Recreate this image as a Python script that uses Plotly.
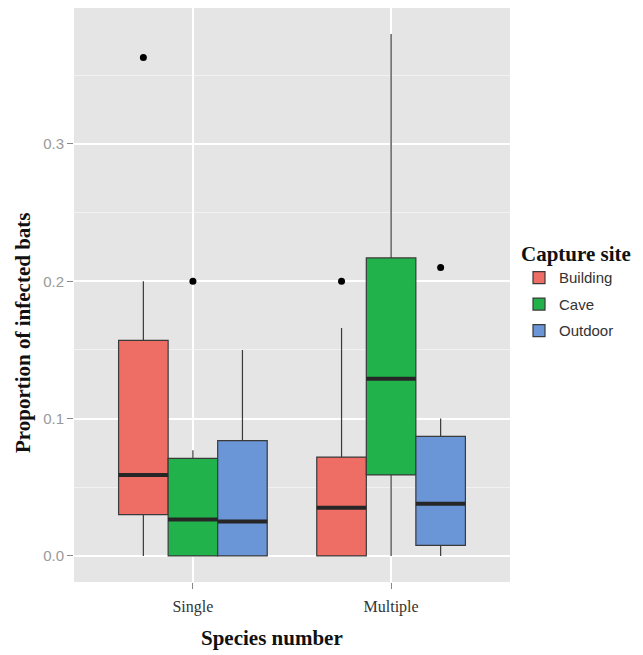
import plotly.graph_objects as go

# ---- data ----
species = ["Single", "Multiple"]
sites = ["Building", "Cave", "Outdoor"]
site_colors = ["#EE6E66", "#22B24C", "#6A95D6"]

# per site: values for [Single, Multiple]
q1 = {"Building": [0.030, 0.0], "Cave": [0.0, 0.059], "Outdoor": [0.0, 0.0076]}
median = {"Building": [0.059, 0.035], "Cave": [0.0265, 0.129], "Outdoor": [0.025, 0.038]}
q3 = {"Building": [0.157, 0.072], "Cave": [0.071, 0.217], "Outdoor": [0.084, 0.087]}
lower = {"Building": [0.0, 0.0], "Cave": [0.0, 0.0], "Outdoor": [0.0, 0.0]}
upper = {"Building": [0.200, 0.166], "Cave": [0.077, 0.380], "Outdoor": [0.150, 0.100]}

outlier_species = ["Single", "Single", "Multiple", "Multiple"]
outlier_site = ["Building", "Cave", "Building", "Outdoor"]
outlier_value = [0.363, 0.200, 0.200, 0.210]

y_ticks = [0.0, 0.1, 0.2, 0.3]
y_tick_labels = ["0.0", "0.1", "0.2", "0.3"]

# ---- layout helpers ----
dodge_total = 0.75
box_w = dodge_total / len(sites)


def xpos(sp, site):
    i = species.index(sp) + 1
    j = sites.index(site)
    return i - dodge_total / 2 + box_w * (j + 0.5)


fig = go.Figure()

for site, col in zip(sites, site_colors):
    xs = [xpos(sp, site) for sp in species]
    fig.add_trace(go.Box(
        x=xs, q1=q1[site], median=median[site], q3=q3[site],
        lowerfence=lower[site], upperfence=upper[site],
        width=box_w, name=site, fillcolor=col,
        line=dict(color="#3a3a3a", width=1.2), whiskerwidth=0,
        boxpoints=False, legendgroup=site, showlegend=True,
    ))

# thick median lines (ggplot fatten)
mx, my = [], []
for site in sites:
    for k, sp in enumerate(species):
        c = xpos(sp, site)
        mx += [c - box_w / 2, c + box_w / 2, None]
        my += [median[site][k], median[site][k], None]
fig.add_trace(go.Scatter(x=mx, y=my, mode="lines", line=dict(color="#262626", width=4),
                         showlegend=False, hoverinfo="skip"))

# outliers
fig.add_trace(go.Scatter(
    x=[xpos(sp, st) for sp, st in zip(outlier_species, outlier_site)],
    y=outlier_value, mode="markers",
    marker=dict(color="black", size=7), showlegend=False,
))

# page body adds an 8px margin, so the figure is drawn 8px smaller
W, H = 635, 647
L, R, T, B = 66, 133, 0, 73
PW, PH = W - L - R, H - T - B

fig.update_layout(
    width=W, height=H,
    margin=dict(l=L, r=R, t=T, b=B, pad=0),
    paper_bgcolor="white", plot_bgcolor="#E5E5E5",
    boxmode="overlay",
    showlegend=True,
    legend=dict(
        title=dict(text="<b>Capture site</b>",
                   font=dict(family="Liberation Serif", size=21, color="#111")),
        font=dict(family="Liberation Sans", size=15, color="#333"),
        x=(511 - L) / PW, y=1 - (226 - T) / PH, xanchor="left", yanchor="top",
        tracegroupgap=4, bgcolor="rgba(0,0,0,0)",
    ),
    xaxis=dict(
        range=[0.4, 2.6], tickvals=[1, 2], ticktext=species,
        showgrid=True, gridcolor="white", gridwidth=1.5, zeroline=False,
        ticks="outside", ticklen=6, tickcolor="#888", tickwidth=1,
        tickfont=dict(family="Liberation Serif", size=16, color="#333"),
        ticklabelstandoff=4, automargin=False,
    ),
    yaxis=dict(
        range=[-0.019, 0.399], tickvals=y_ticks, ticktext=y_tick_labels,
        showgrid=True, gridcolor="white", gridwidth=1.5, zeroline=False,
        ticks="outside", ticklen=6, tickcolor="#888", tickwidth=1,
        tickfont=dict(family="Liberation Sans", size=15, color="#9a9a9a"),
        minor=dict(tickvals=[0.05, 0.15, 0.25, 0.35], showgrid=True,
                   gridcolor="#F2F2F2", gridwidth=0.8, ticks=""),
        automargin=False,
    ),
    annotations=[
        dict(text="<b>Species number</b>", xref="paper", yref="paper",
             x=(264 - L) / PW, y=-(630 - (H - B)) / PH,
             xanchor="center", yanchor="middle", showarrow=False,
             font=dict(family="Liberation Serif", size=21, color="#111")),
        dict(text="<b>Proportion of infected bats</b>", xref="paper", yref="paper",
             x=-(L - 15) / PW, y=(H - B - 325) / PH,
             xanchor="center", yanchor="middle", showarrow=False, textangle=-90,
             font=dict(family="Liberation Serif", size=21, color="#111")),
    ],
)

fig.write_html("out.html")
